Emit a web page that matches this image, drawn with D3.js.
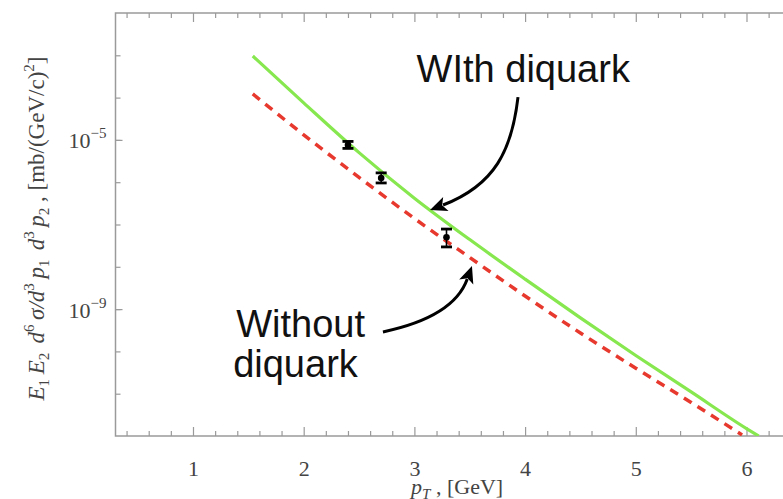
<!DOCTYPE html>
<html>
<head>
<meta charset="utf-8">
<script src="https://cdn.jsdelivr.net/npm/d3@7"></script>
<style>
  body { margin: 0; background: #fff; }
  svg { display: block; }
</style>
</head>
<body>
<script>
// Model curves: invariant two-particle cross section vs pT
const ptWith = [1.54, 2.0, 2.5, 3.0, 3.5, 4.0, 4.5, 5.0, 5.5, 6.0, 6.11];
const sigmaWith = [9.6e-4, 7.5e-5, 5.0e-6, 4.2e-7, 4.4e-8, 5.1e-9, 6.2e-10, 8.0e-11, 1.1e-11, 1.5e-12, 1.0e-12];
const ptWithout = [1.54, 2.0, 2.5, 3.0, 3.5, 4.0, 4.5, 5.0, 5.5, 5.96];
const sigmaWithout = [1.22e-4, 1.32e-5, 1.30e-6, 1.39e-7, 1.66e-8, 2.04e-9, 2.72e-10, 4.0e-11, 6.2e-12, 1.06e-12];

// Measured points with error bars
const ptData = [2.40, 2.70, 3.29];
const sigmaData = [7.6e-6, 1.26e-6, 5.0e-8];
const sigmaLow = [6.3e-6, 9.6e-7, 2.95e-8];
const sigmaHigh = [9.2e-6, 1.66e-6, 7.8e-8];

// Axis ticks
const xTicks = [1, 2, 3, 4, 5, 6];
const yTickExps = [-5, -9];

// Annotation anchors in data coordinates: [pT, sigma]
const labelWith = ["WIth diquark"];
const labelWithPos = [3.02, 2.3e-4];
const arrowWith = [[3.936, 1.03e-4], [3.881, 5.8e-6], [3.728, 8.6e-7], [3.141, 2.2e-7]];
const labelWithout = ["Without", "diquark"];
const labelWithoutPos = [1.39, 2.19e-10];
const arrowWithout = [[2.716, 2.88e-10], [3.141, 4.95e-10], [3.394, 1.25e-9], [3.52, 1.05e-8]];

const W = 783, H = 499;
const mLeft = 115.5, mTop = 13, mBottom = 436;
const x = d3.scaleLinear().domain([0.3, 6.4]).range([mLeft, mLeft + 6.1 * 110.7]);
const y = d3.scaleLog().domain([1e-12, 1e-2]).range([mBottom, mTop]);
const mRight = x(6.4);

const svg = d3.select("body").append("svg").attr("width", W).attr("height", H);

const serif = "'Liberation Serif', 'Times New Roman', serif";
const sans = "'Liberation Sans', Arial, Helvetica, sans-serif";
const axisGray = "#9a9a9a";
const labelGray = "#444";

svg.append("defs").append("clipPath").attr("id", "plotClip")
  .append("rect").attr("x", mLeft).attr("y", mTop).attr("width", mRight - mLeft).attr("height", mBottom - mTop);

// Frame
svg.append("rect").attr("x", mLeft).attr("y", mTop).attr("width", mRight - mLeft).attr("height", mBottom - mTop)
  .attr("fill", "none").attr("stroke", axisGray).attr("stroke-width", 1.5);

// X ticks (bottom and top, pointing inward)
const xMinor = d3.range(0.4, 6.39, 0.2).map(v => +v.toFixed(1)).filter(v => Math.abs(v - Math.round(v)) > 1e-6);
function xAxes(gen, yPos, minorLen, majorLen, withLabels) {
  const gMin = svg.append("g").attr("transform", `translate(0,${yPos})`)
    .call(gen(x).tickValues(xMinor).tickSize(minorLen).tickFormat(""));
  const gMaj = svg.append("g").attr("transform", `translate(0,${yPos})`)
    .call(gen(x).tickValues(xTicks).tickSize(majorLen).tickPadding(24)
      .tickFormat(withLabels ? d3.format("d") : ""));
  [gMin, gMaj].forEach(g => {
    g.select(".domain").remove();
    g.selectAll("line").attr("stroke", axisGray).attr("stroke-width", 1.2);
  });
  gMaj.selectAll("text").attr("font-family", serif).attr("font-size", 22).attr("fill", labelGray);
}
xAxes(d3.axisBottom, mBottom, -5, -9, true);
xAxes(d3.axisTop, mTop, -5, -9, false);

// Y ticks: every decade, labelled ones longer
const decades = d3.range(-11, -2).map(e => Math.pow(10, e));
const gy = svg.append("g").attr("transform", `translate(${mLeft},0)`)
  .call(d3.axisLeft(y).tickValues(decades).tickSize(-5).tickFormat(""));
gy.select(".domain").remove();
gy.selectAll("line").attr("stroke", axisGray).attr("stroke-width", 1.2);
const gyMaj = svg.append("g").attr("transform", `translate(${mLeft},0)`)
  .call(d3.axisLeft(y).tickValues(yTickExps.map(e => Math.pow(10, e))).tickSize(-7).tickFormat(""));
gyMaj.select(".domain").remove();
gyMaj.selectAll("line").attr("stroke", axisGray).attr("stroke-width", 1.2);

yTickExps.forEach(e => {
  const t = svg.append("text")
    .attr("x", mLeft - 9).attr("y", y(Math.pow(10, e)) + 8.5)
    .attr("text-anchor", "end").attr("font-family", serif).attr("fill", labelGray).attr("font-size", 22);
  t.append("tspan").text("10");
  t.append("tspan").attr("dy", -10).attr("font-size", 15).text("\u2212" + Math.abs(e));
});

// Axis titles
const xt = svg.append("text").attr("x", (mLeft + mRight) / 2 + 4).attr("y", 494)
  .attr("text-anchor", "middle").attr("font-family", serif).attr("font-size", 22).attr("fill", labelGray);
xt.append("tspan").attr("font-style", "italic").text("p");
xt.append("tspan").attr("font-style", "italic").attr("font-size", 15).attr("dy", 5).text("T");
xt.append("tspan").attr("dy", -5).text(" , [GeV]");

const yt = svg.append("text").attr("transform", `translate(44,${(mTop + mBottom) / 2 + 4}) rotate(-90)`)
  .attr("text-anchor", "middle").attr("font-family", serif).attr("font-size", 23).attr("fill", labelGray);
const ytParts = [
  ["E", "i", 0, 0], ["1", "n", 5, 1], ["\u2009E", "i", -5, 0], ["2", "n", 5, 1], ["\u2009\u2009d", "i", -5, 0], ["6", "n", -10, 1],
  ["\u2009\u03C3/", "i", 10, 0], ["d", "i", 0, 0], ["3", "n", -10, 1], ["\u2009p", "i", 10, 0], ["1", "n", 5, 1],
  ["\u2009\u2009d", "i", -5, 0], ["3", "n", -10, 1], ["\u2009p", "i", 10, 0], ["2", "n", 5, 1],
  [" , [mb/(GeV/c)", "n", -5, 0], ["2", "n", -10, 1], ["]", "n", 10, 0]
];
ytParts.forEach(([s, st, dy, small]) => {
  yt.append("tspan").attr("dy", dy)
    .attr("font-style", st === "i" ? "italic" : "normal")
    .attr("font-size", small ? 15 : 23).text(s);
});

// Curves
const plot = svg.append("g").attr("clip-path", "url(#plotClip)");
const line = d3.line().x(d => x(d[0])).y(d => y(d[1])).curve(d3.curveMonotoneX);
plot.append("path").datum(d3.zip(ptWithout, sigmaWithout)).attr("d", line)
  .attr("fill", "none").attr("stroke", "#e8392e").attr("stroke-width", 3.5).attr("stroke-dasharray", "9,7");
plot.append("path").datum(d3.zip(ptWith, sigmaWith)).attr("d", line)
  .attr("fill", "none").attr("stroke", "#86e84e").attr("stroke-width", 3.2);

// Data points with error bars
const pts = svg.append("g");
ptData.forEach((p, i) => {
  const cx = x(p);
  pts.append("line").attr("x1", cx).attr("x2", cx).attr("y1", y(sigmaLow[i])).attr("y2", y(sigmaHigh[i]))
    .attr("stroke", "#000").attr("stroke-width", 1.6);
  [sigmaLow[i], sigmaHigh[i]].forEach(v => {
    pts.append("line").attr("x1", cx - 5.5).attr("x2", cx + 5.5).attr("y1", y(v)).attr("y2", y(v))
      .attr("stroke", "#000").attr("stroke-width", 2.8);
  });
  pts.append("circle").attr("cx", cx).attr("cy", y(sigmaData[i])).attr("r", 3.3).attr("fill", "#000");
});

// Annotation arrows with filled heads
function arrow(ctrl) {
  const P = ctrl.map(d => [x(d[0]), y(d[1])]);
  const tip = P[3], c2 = P[2];
  const dx = tip[0] - c2[0], dy = tip[1] - c2[1];
  const L = Math.hypot(dx, dy), ux = dx / L, uy = dy / L;
  const hl = 17, hw = 7.5;
  const base = [tip[0] - ux * hl, tip[1] - uy * hl];
  const end = [tip[0] - ux * (hl - 3), tip[1] - uy * (hl - 3)];
  svg.append("path")
    .attr("d", `M${P[0]}C${P[1]} ${c2} ${end}`)
    .attr("fill", "none").attr("stroke", "#000").attr("stroke-width", 3);
  svg.append("path")
    .attr("d", `M${tip}L${base[0] - uy * hw},${base[1] + ux * hw}L${base[0] + ux * 4},${base[1] + uy * 4}L${base[0] + uy * hw},${base[1] - ux * hw}Z`)
    .attr("fill", "#000");
}
arrow(arrowWith);
arrow(arrowWithout);

svg.append("text").attr("x", x(labelWithPos[0])).attr("y", y(labelWithPos[1]))
  .attr("font-family", sans).attr("font-size", 38).attr("fill", "#111").text(labelWith[0]);
const tw = svg.append("text").attr("x", x(labelWithoutPos[0])).attr("y", y(labelWithoutPos[1]))
  .attr("font-family", sans).attr("font-size", 38).attr("fill", "#111");
labelWithout.forEach((s, i) => {
  tw.append("tspan").attr("x", x(labelWithoutPos[0]) - (i ? 3 : 0)).attr("dy", i ? 40 : 0).text(s);
});
</script>
</body>
</html>
